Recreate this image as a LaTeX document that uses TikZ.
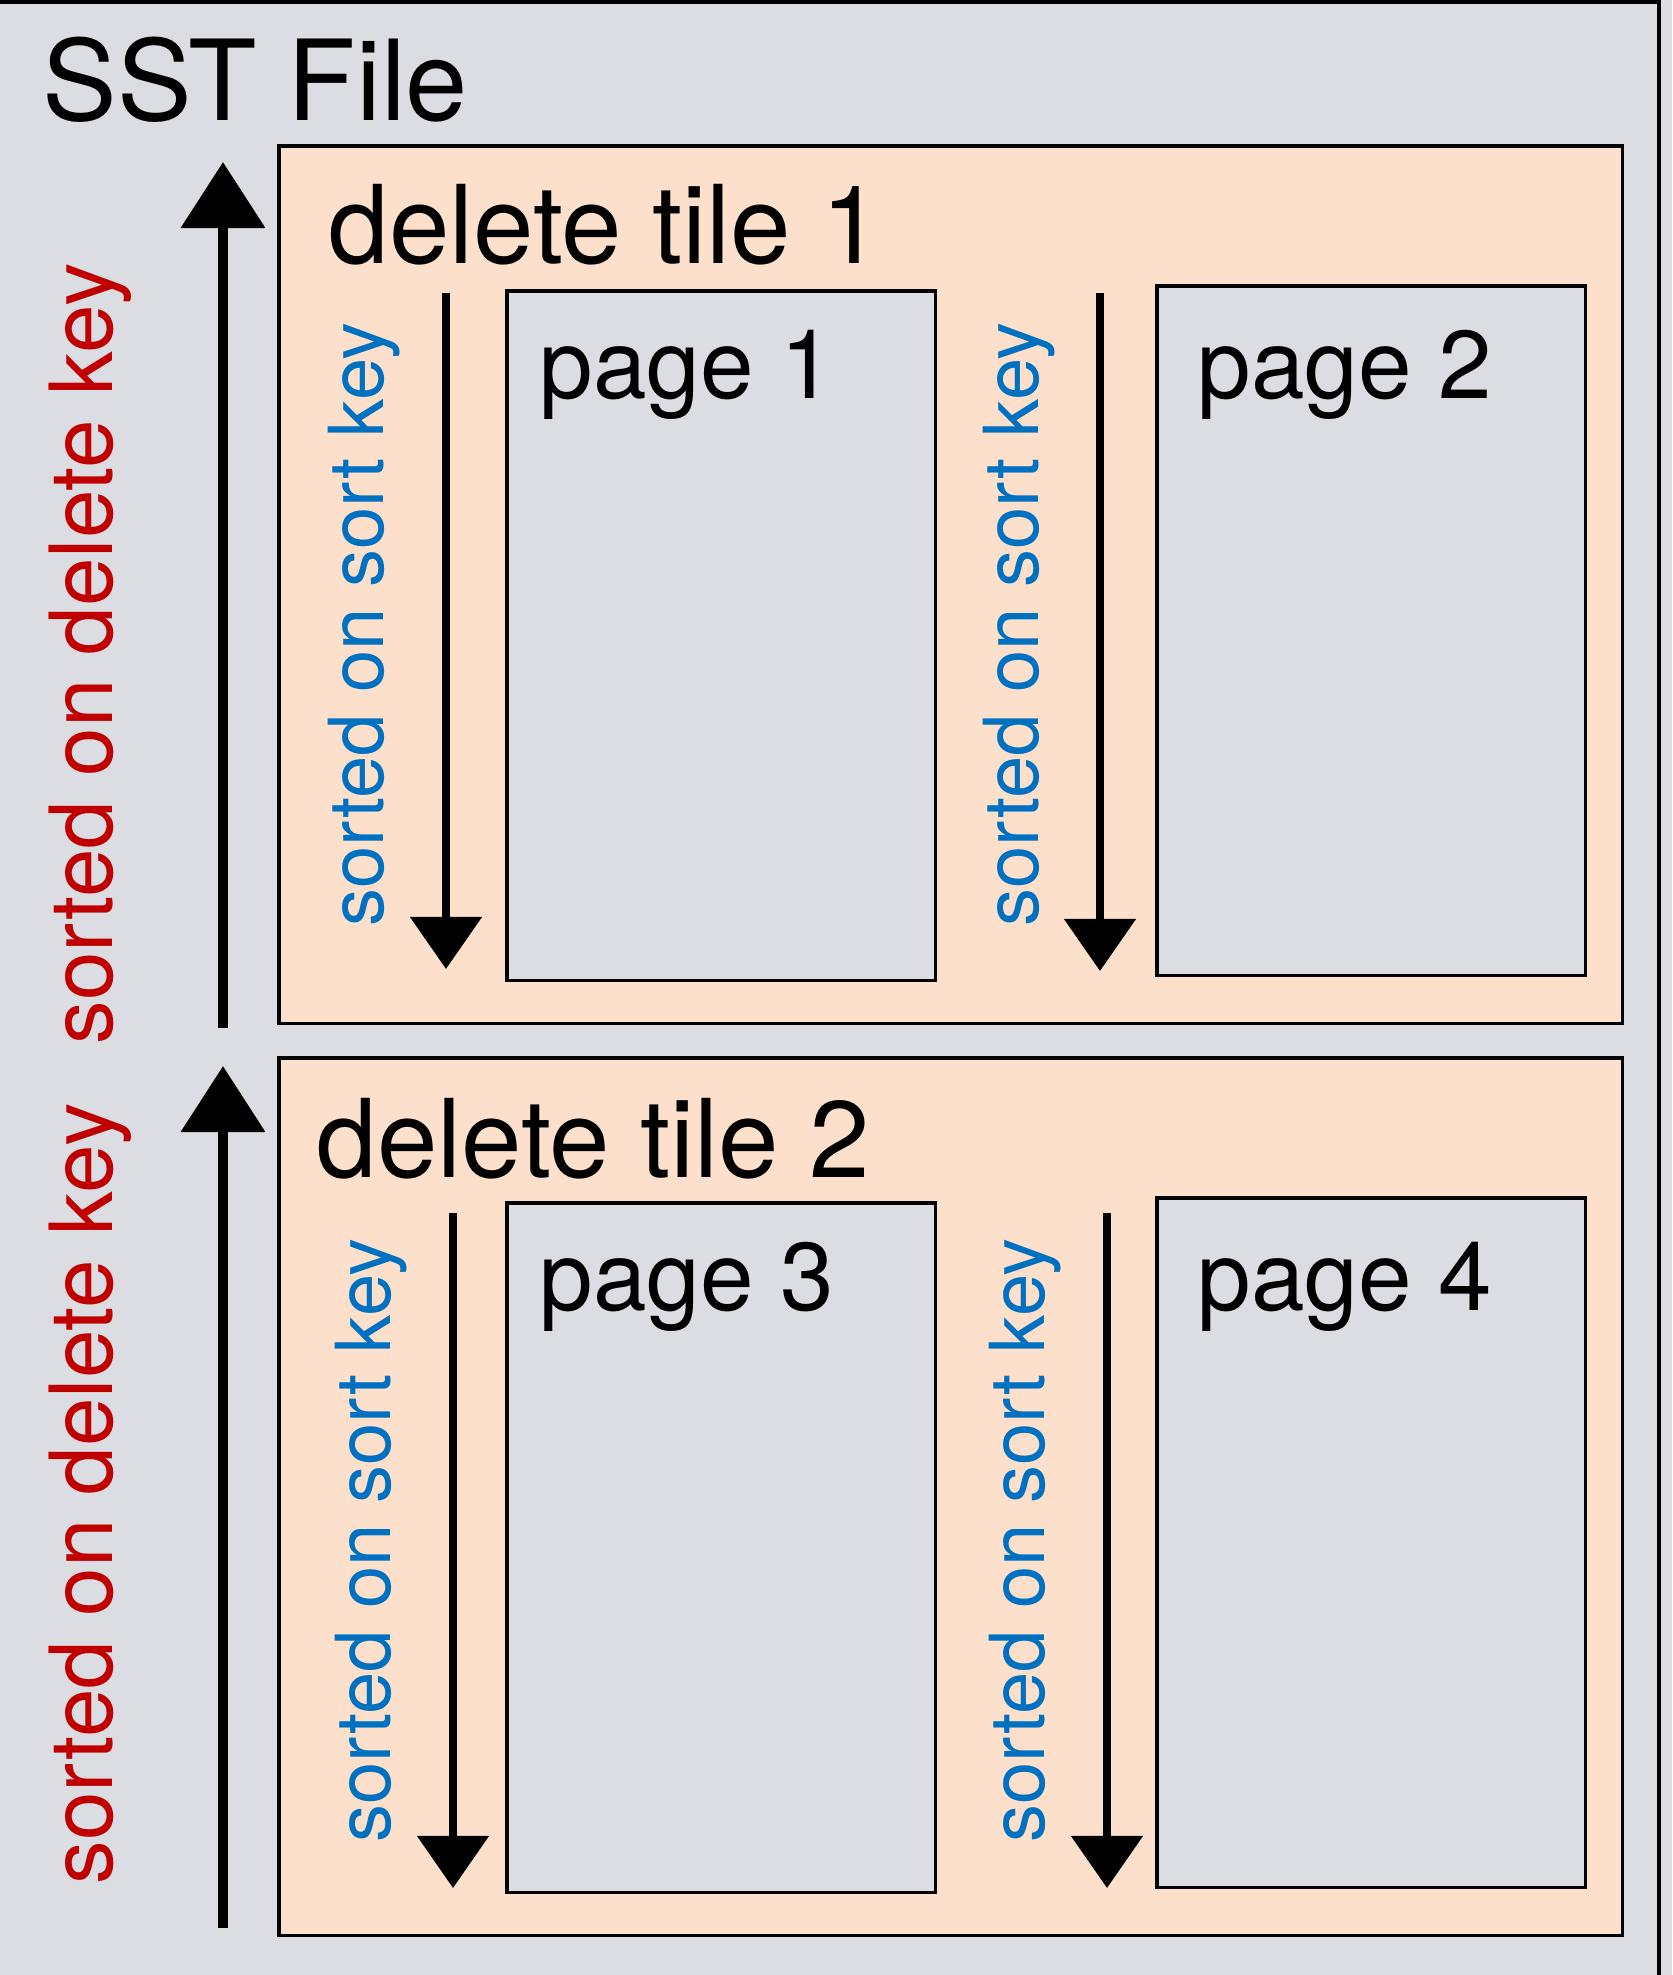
\documentclass[tikz,border=0pt]{standalone}
\usepackage{fontspec}
\setmainfont{TeX Gyre Heros}
\usepackage{tikz}
\usetikzlibrary{arrows.meta,positioning}
\definecolor{filegray}{RGB}{220,221,226}
\definecolor{tilepeach}{RGB}{252,224,204}
\definecolor{deletered}{RGB}{192,0,0}
\definecolor{sortblue}{RGB}{0,112,192}

\begin{document}
\begin{tikzpicture}[
    x=0.01cm,
    y=-0.01cm,
    tilebox/.style={
		rectangle,
		draw=black,
		line width=0.9pt,
		fill=tilepeach,
		anchor=north west,
		inner sep=0pt,
		outer sep=0pt,
		minimum width=13.43cm,
		minimum height=8.77cm
	},
	pagebox/.style={
		rectangle,
		draw=black,
		line width=0.9pt,
		fill=filegray,
		anchor=north west,
		inner sep=0pt,
		outer sep=0pt,
		minimum width=4.28cm,
		minimum height=6.89cm
	},
	filelabel/.style={
		anchor=base west,
		inner sep=0pt,
		font=\fontsize{31.8pt}{36pt}\selectfont
	},
	tilelabel/.style={
		anchor=base west,
		inner sep=0pt,
		font=\fontsize{30.9pt}{36pt}\selectfont
	},
	pagelabel/.style={
		anchor=base west,
		inner sep=0pt,
		font=\fontsize{27.4pt}{30pt}\selectfont
	},
	deletekey/.style={
		rotate=90,
		anchor=base west,
		inner sep=0pt,
		text=deletered,
		font=\fontsize{24.8pt}{30pt}\selectfont
	},
	sortkey/.style={
		rotate=90,
		anchor=base west,
		inner sep=0pt,
		text=sortblue,
		font=\fontsize{21.6pt}{26pt}\selectfont
	},
	sortarrow/.style={
		line width=2.3pt,
		-{Triangle[width=0.70cm, length=0.52cm]}
	},
	deletearrow/.style={
		line width=3.1pt,
		-{Triangle[width=0.82cm, length=0.66cm]}
	}
  ]

% // The file
 \useasboundingbox (0,0) rectangle (1672,1975);
 \fill [filegray] (0,0) rectangle (1672,1975);
 \draw [line width=0.9pt] (0,2) -| (1659,1975);
 \node [filelabel] (sst) at (42,120) {SST File};

% // The delete tiles
 \node [tilebox] (tile1) at (279,146) {};
 \node [tilebox] (tile2) at (279,1058) {};
 \node [tilelabel] (tile1name) at (328,263) {delete tile 1};
 \node [tilelabel] (tile2name) at (316,1177) {delete tile 2};

% // The pages
 \node [pagebox] (page1) at (507,291) {};
 \node [pagebox] (page2) at (1157,286) {};
 \node [pagebox] (page3) at (507,1203) {};
 \node [pagebox] (page4) at (1157,1198) {};
 \node [pagelabel] (page1name) at (539,398) {page 1};
 \node [pagelabel] (page2name) at (1197,398) {page 2};
 \node [pagelabel] (page3name) at (539,1310) {page 3};
 \node [pagelabel] (page4name) at (1197,1310) {page 4};

% sort key order inside each page
 \coordinate (sort1start) at (446,293);
 \coordinate (sort1end) at (446,969);
 \coordinate (sort2start) at (1100,293);
 \coordinate (sort2end) at (1100,971);
 \coordinate (sort3start) at (453,1213);
 \coordinate (sort3end) at (453,1888);
 \coordinate (sort4start) at (1107,1213);
 \coordinate (sort4end) at (1107,1888);
 \draw [sortarrow] (sort1start) -- (sort1end);
 \draw [sortarrow] (sort2start) -- (sort2end);
 \draw [sortarrow] (sort3start) -- (sort3end);
 \draw [sortarrow] (sort4start) -- (sort4end);
 \node [sortkey] (sort1label) at (383,927) {sorted on sort key};
 \node [sortkey] (sort2label) at (1038,927) {sorted on sort key};
 \node [sortkey] (sort3label) at (390,1843) {sorted on sort key};
 \node [sortkey] (sort4label) at (1044,1843) {sorted on sort key};

% delete key order of the tiles
 \coordinate (delete1start) at (223,1028);
 \coordinate (delete1end) at (223,162);
 \coordinate (delete2start) at (223,1928);
 \coordinate (delete2end) at (223,1066);
 \draw [deletearrow] (delete1start) -- (delete1end);
 \draw [deletearrow] (delete2start) -- (delete2end);
 \node [deletekey] (delete1label) at (113,1045) {sorted on delete key};
 \node [deletekey] (delete2label) at (113,1885) {sorted on delete key};

\end{tikzpicture}
\end{document}
